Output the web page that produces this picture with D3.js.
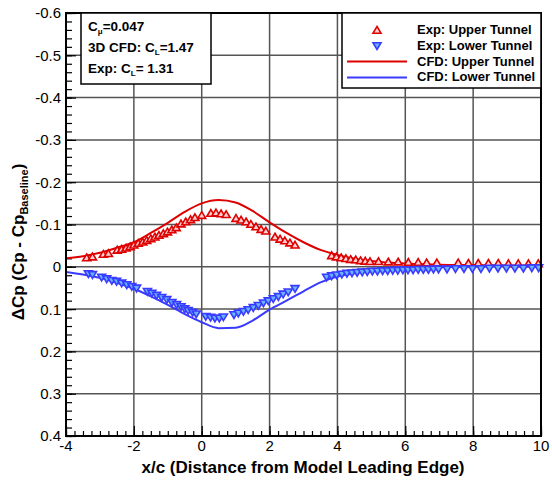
<!DOCTYPE html>
<html>
<head>
<meta charset="utf-8">
<script src="https://cdn.jsdelivr.net/npm/d3@7/dist/d3.min.js"></script>
<style>
  html, body { margin: 0; padding: 0; background: #fff; }
  svg { display: block; font-family: "Liberation Sans", Arial, sans-serif; }
</style>
</head>
<body>
<svg id="chart" width="552" height="484"></svg>
<script>
// Experimental pressure-tap data, upper tunnel wall
const upperExpX = [-3.39,-3.22,-2.90,-2.75,-2.49,-2.36,-2.23,-2.11,-2.00,-1.87,-1.74,-1.62,-1.50,-1.38,-1.26,-1.13,-1.01,-0.88,-0.75,-0.61,-0.47,-0.33,-0.20,0.00,0.27,0.42,0.57,0.72,1.01,1.16,1.31,1.45,1.60,1.75,1.89,2.16,2.31,2.45,2.60,2.75,
  3.83,3.97,4.11,4.25,4.39,4.54,4.68,4.82,4.96,5.21,5.50,5.79,6.09,6.38,6.63,6.93,7.56,7.86,8.15,8.45,8.74,9.04,9.33,9.63,9.92];
const upperExpY = [-0.022,-0.024,-0.030,-0.032,-0.040,-0.042,-0.045,-0.048,-0.052,-0.056,-0.059,-0.063,-0.067,-0.071,-0.075,-0.079,-0.083,-0.088,-0.093,-0.102,-0.107,-0.112,-0.117,-0.122,-0.127,-0.128,-0.126,-0.124,-0.115,-0.111,-0.107,-0.101,-0.095,-0.089,-0.085,-0.071,-0.066,-0.062,-0.057,-0.052,
  -0.027,-0.024,-0.022,-0.020,-0.018,-0.017,-0.015,-0.014,-0.013,-0.013,-0.012,-0.012,-0.011,-0.011,-0.010,-0.010,-0.010,-0.009,-0.009,-0.009,-0.009,-0.008,-0.008,-0.008,-0.008];

// Experimental pressure-tap data, lower tunnel wall
const lowerExpX = [-3.34,-3.22,-2.95,-2.80,-2.65,-2.51,-2.36,-2.21,-2.06,-1.92,-1.60,-1.47,-1.33,-1.18,-1.03,-0.88,-0.74,-0.61,-0.50,-0.40,-0.27,-0.16,0.12,0.26,0.39,0.52,0.64,0.95,1.08,1.23,1.37,1.52,1.67,1.82,1.96,2.11,2.26,2.40,2.55,2.75,
  3.68,3.83,3.98,4.13,4.28,4.43,4.58,4.73,4.88,5.03,5.18,5.33,5.48,5.63,5.78,5.93,6.08,6.23,6.38,6.53,6.68,6.83,6.98,7.23,7.48,7.73,7.98,8.23,8.48,8.73,8.98,9.23,9.48,9.73,9.93];
const lowerExpY = [0.017,0.019,0.025,0.029,0.033,0.035,0.039,0.043,0.047,0.051,0.059,0.063,0.068,0.073,0.078,0.085,0.090,0.095,0.100,0.104,0.108,0.112,0.118,0.120,0.122,0.122,0.119,0.114,0.110,0.106,0.102,0.097,0.092,0.086,0.081,0.076,0.071,0.065,0.060,0.052,
  0.025,0.022,0.020,0.018,0.016,0.015,0.014,0.013,0.012,0.011,0.011,0.010,0.010,0.009,0.009,0.008,0.008,0.008,0.007,0.007,0.007,0.006,0.006,0.006,0.005,0.005,0.005,0.005,0.004,0.004,0.004,0.004,0.004,0.003,0.003];

// 3D CFD predictions along the tunnel walls
const cfdX     = [-4,-3.5,-3,-2.5,-2,-1.5,-1,-0.5,0,0.5,1,1.5,2,2.5,3,3.5,4,4.5,5,5.5,6,7,8,9,10];
const cfdUpper = [-0.020,-0.025,-0.033,-0.045,-0.058,-0.080,-0.104,-0.130,-0.150,-0.158,-0.152,-0.132,-0.105,-0.080,-0.058,-0.040,-0.028,-0.019,-0.014,-0.010,-0.008,-0.005,-0.004,-0.003,-0.003];
const cfdLower = [0.012,0.018,0.026,0.038,0.052,0.070,0.090,0.112,0.131,0.145,0.144,0.127,0.101,0.080,0.058,0.037,0.023,0.015,0.010,0.006,0.004,0.001,-0.001,-0.002,-0.002];

// Axis ticks
const xTicks = [-4,-2,0,2,4,6,8,10];
const yTicks = [-0.6,-0.5,-0.4,-0.3,-0.2,-0.1,0,0.1,0.2,0.3,0.4];

const legendLabels = ["Exp: Upper Tunnel","Exp: Lower Tunnel","CFD: Upper Tunnel","CFD: Lower Tunnel"];

const RED = "#dd0000", BLUE = "#3a3aff";
const RED_FILL = "#ffd0d0", BLUE_FILL = "#66b3ff";

const svg = d3.select("#chart");
const L = 66, R = 541, T = 13, B = 436;

const x = d3.scaleLinear().domain([-4, 10]).range([L, R]);
const y = d3.scaleLinear().domain([-0.6, 0.4]).range([T, B]);

// grid
const grid = svg.append("g");
grid.selectAll("line.gx").data(xTicks.slice(1, -1)).join("line")
  .attr("x1", d => x(d)).attr("x2", d => x(d)).attr("y1", T).attr("y2", B)
  .attr("stroke", "#555").attr("stroke-width", 1.5);
grid.selectAll("line.gy").data(yTicks.slice(1, -1)).join("line")
  .attr("x1", L).attr("x2", R).attr("y1", d => y(d)).attr("y2", d => y(d))
  .attr("stroke", "#555").attr("stroke-width", 1.5);

// axes with inward ticks
const xMinor = d3.range(-4, 10.001, 0.25);
const yMinor = d3.range(-0.6, 0.4001, 0.02);
const axX = svg.append("g").attr("transform", `translate(0,${B})`)
  .call(d3.axisBottom(x).tickValues(xMinor).tickSize(-5).tickFormat(""));
axX.append("g").call(d3.axisBottom(x).tickValues(xTicks).tickSize(-10).tickFormat(""));
const axY = svg.append("g").attr("transform", `translate(${L},0)`)
  .call(d3.axisLeft(y).tickValues(yMinor).tickSize(-6).tickFormat(""));
axY.append("g").call(d3.axisLeft(y).tickValues(yTicks).tickSize(-10).tickFormat(""));
svg.selectAll(".domain").remove();
svg.selectAll(".tick line").attr("stroke", "#000").attr("stroke-width", 1.2);

// tick labels
svg.append("g").selectAll("text").data(xTicks).join("text")
  .attr("x", d => x(d)).attr("y", 451).attr("text-anchor", "middle")
  .attr("font-size", 15).text(d => d);
svg.append("g").selectAll("text").data(yTicks).join("text")
  .attr("x", 61).attr("y", d => y(d)).attr("dy", "0.36em").attr("text-anchor", "end")
  .attr("font-size", 15).text(d => d === 0 ? "0" : d.toFixed(1));

// axis titles
svg.append("text").attr("x", 303).attr("y", 473).attr("text-anchor", "middle")
  .attr("font-size", 17).attr("font-weight", "bold")
  .text("x/c (Distance from Model Leading Edge)");
const yt = svg.append("text").attr("transform", "translate(24,242) rotate(-90)")
  .attr("text-anchor", "middle").attr("font-size", 17).attr("font-weight", "bold");
yt.append("tspan").text("\u0394Cp (Cp - Cp");
yt.append("tspan").attr("font-size", 11).attr("dy", 4).text("Baseline");
yt.append("tspan").attr("dy", -4).text(")");

// CFD lines
const line = d3.line().curve(d3.curveMonotoneX);
svg.append("path")
  .attr("d", line(cfdX.map((v, i) => [x(v), y(cfdUpper[i])])))
  .attr("fill", "none").attr("stroke", RED).attr("stroke-width", 2);
svg.append("path")
  .attr("d", line(cfdX.map((v, i) => [x(v), y(cfdLower[i])])))
  .attr("fill", "none").attr("stroke", BLUE).attr("stroke-width", 2);

// triangle markers
const triUp = "M0,-3.5L4,3.2L-4,3.2Z";
const triDown = "M0,3.5L4,-3.2L-4,-3.2Z";
svg.append("g").selectAll("path").data(upperExpX.map((v, i) => [v, upperExpY[i]])).join("path")
  .attr("transform", d => `translate(${x(d[0])},${y(d[1])})`)
  .attr("d", triUp).attr("fill", RED_FILL).attr("stroke", RED).attr("stroke-width", 1.6);
svg.append("g").selectAll("path").data(lowerExpX.map((v, i) => [v, lowerExpY[i]])).join("path")
  .attr("transform", d => `translate(${x(d[0])},${y(d[1])})`)
  .attr("d", triDown).attr("fill", BLUE_FILL).attr("stroke", BLUE).attr("stroke-width", 1.6);

// frame
svg.append("rect").attr("x", L).attr("y", T).attr("width", R - L).attr("height", B - T)
  .attr("fill", "none").attr("stroke", "#000").attr("stroke-width", 2);

// condition annotation
svg.append("rect").attr("x", 81).attr("y", 13).attr("width", 130).attr("height", 71)
  .attr("fill", "#fff").attr("stroke", "#000").attr("stroke-width", 1.5);
const ann = [
  ["C", "\u03bc", "=0.047", 31],
  ["3D CFD: C", "L", "=1.47", 52],
  ["Exp: C", "L", "= 1.31", 73]
];
ann.forEach(a => {
  const t = svg.append("text").attr("x", 88).attr("y", a[3])
    .attr("font-size", 13.5).attr("font-weight", "bold");
  t.append("tspan").text(a[0]);
  t.append("tspan").attr("font-size", 8).attr("dy", 3).text(a[1]);
  t.append("tspan").attr("dy", -3).text(a[2]);
});

// legend
svg.append("rect").attr("x", 342).attr("y", 13).attr("width", 199).attr("height", 75)
  .attr("fill", "#fff").attr("stroke", "#000").attr("stroke-width", 1.5);
const lgY = [34, 50, 66, 81];
svg.append("path").attr("transform", `translate(377,30)`).attr("d", triUp)
  .attr("fill", RED_FILL).attr("stroke", RED).attr("stroke-width", 1.6);
svg.append("path").attr("transform", `translate(377,46)`).attr("d", triDown)
  .attr("fill", BLUE_FILL).attr("stroke", BLUE).attr("stroke-width", 1.6);
svg.append("line").attr("x1", 347).attr("x2", 407).attr("y1", 61.5).attr("y2", 61.5)
  .attr("stroke", RED).attr("stroke-width", 2);
svg.append("line").attr("x1", 347).attr("x2", 407).attr("y1", 77.5).attr("y2", 77.5)
  .attr("stroke", BLUE).attr("stroke-width", 2);
svg.append("g").selectAll("text").data(legendLabels).join("text")
  .attr("x", 417).attr("y", (d, i) => lgY[i]).attr("font-size", 13).attr("font-weight", "bold")
  .text(d => d);
</script>
</body>
</html>
